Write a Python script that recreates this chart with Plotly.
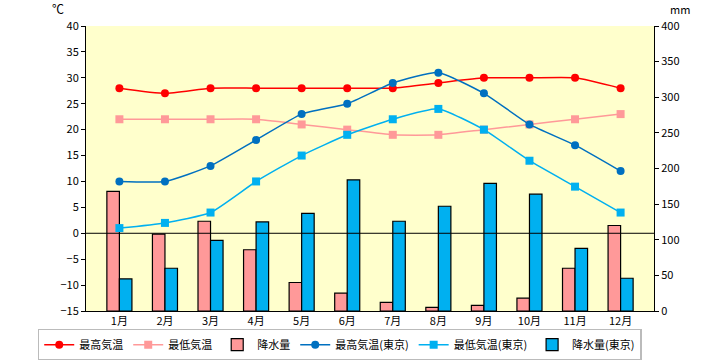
import plotly.graph_objects as go

months = ["1月", "2月", "3月", "4月", "5月", "6月", "7月", "8月", "9月", "10月", "11月", "12月"]
max_temp = [28, 27, 28, 28, 28, 28, 28, 29, 30, 30, 30, 28]
min_temp = [22, 22, 22, 22, 21, 20, 19, 19, 20, 21, 22, 23]
precip = [168, 108, 126, 86, 40, 25, 12, 5, 8, 18, 60, 120]
max_tokyo = [10, 10, 13, 18, 23, 25, 29, 31, 27, 21, 17, 12]
min_tokyo = [1, 2, 4, 10, 15, 19, 22, 24, 20, 14, 9, 4]
precip_tokyo = [45, 60, 99, 125, 137, 184, 126, 147, 179, 164, 88, 46]

FONT = "Noto Sans CJK JP"

fig = go.Figure()
fig.add_trace(go.Scatter(x=months, y=max_temp, name="最高気温", yaxis="y2",
                         mode="lines+markers", line=dict(color="#FF0000", width=1.5, shape="spline", smoothing=0.5),
                         marker=dict(symbol="circle", size=8, color="#FF0000")))
fig.add_trace(go.Scatter(x=months, y=min_temp, name="最低気温", yaxis="y2",
                         mode="lines+markers", line=dict(color="#FF9999", width=1.5, shape="spline", smoothing=0.5),
                         marker=dict(symbol="square", size=8, color="#FF9999")))
fig.add_trace(go.Bar(x=months, y=precip, name="降水量", yaxis="y",
                     marker=dict(color="#FF9999", line=dict(color="#000000", width=1.2))))
fig.add_trace(go.Scatter(x=months, y=max_tokyo, name="最高気温(東京)", yaxis="y2",
                         mode="lines+markers", line=dict(color="#0070C0", width=1.5, shape="spline", smoothing=0.5),
                         marker=dict(symbol="circle", size=8, color="#0070C0")))
fig.add_trace(go.Scatter(x=months, y=min_tokyo, name="最低気温(東京)", yaxis="y2",
                         mode="lines+markers", line=dict(color="#00B0F0", width=1.5, shape="spline", smoothing=0.5),
                         marker=dict(symbol="square", size=8, color="#00B0F0")))
fig.add_trace(go.Bar(x=months, y=precip_tokyo, name="降水量(東京)", yaxis="y",
                     marker=dict(color="#00B0F0", line=dict(color="#000000", width=1.2))))

fig.update_layout(
    width=720, height=360,
    margin=dict(l=86, r=66, t=26, b=49, autoexpand=False),
    paper_bgcolor="white", plot_bgcolor="#FFFFCC",
    font=dict(family=FONT, size=11, color="#000000"),
    barmode="group", bargap=0.45, bargroupgap=0,
    showlegend=True,
    legend=dict(orientation="h", x=-0.085, xanchor="left", y=-0.062, yanchor="top",
                bordercolor="#BBBBBB", borderwidth=1.5, font=dict(size=11, family=FONT),
                traceorder="normal", itemwidth=30, tracegroupgap=0),
    xaxis=dict(type="category", showline=True, linecolor="#000000", linewidth=1,
               ticks="", showgrid=False, tickfont=dict(size=11)),
    yaxis=dict(side="right", range=[0, 400], dtick=50, showline=True, linecolor="#000000",
               linewidth=1, ticks="outside", ticklen=4, tickcolor="#000000", showgrid=False,
               zeroline=False, tickfont=dict(size=11)),
    yaxis2=dict(overlaying="y", side="left", range=[-15, 40], dtick=5, showline=True,
                linecolor="#000000", linewidth=1, ticks="outside", ticklen=4, tickcolor="#000000",
                showgrid=False, zeroline=False, tickfont=dict(size=11)),
    shapes=[dict(type="line", xref="paper", x0=0, x1=1, yref="y2", y0=0, y1=0,
                 line=dict(color="#000000", width=1), layer="above")],
    annotations=[
        dict(text="℃", xref="paper", yref="paper", x=-0.05, y=1.06, xanchor="center", yanchor="middle",
             showarrow=False, font=dict(size=12, family=FONT)),
        dict(text="mm", xref="paper", yref="paper", x=1.025, y=1.06, xanchor="left", yanchor="middle",
             showarrow=False, font=dict(size=11, family=FONT)),
    ],
)

fig.write_html("out.html", config={"displayModeBar": False},
               post_script="document.body.style.margin='0';document.body.style.overflow='hidden';")
